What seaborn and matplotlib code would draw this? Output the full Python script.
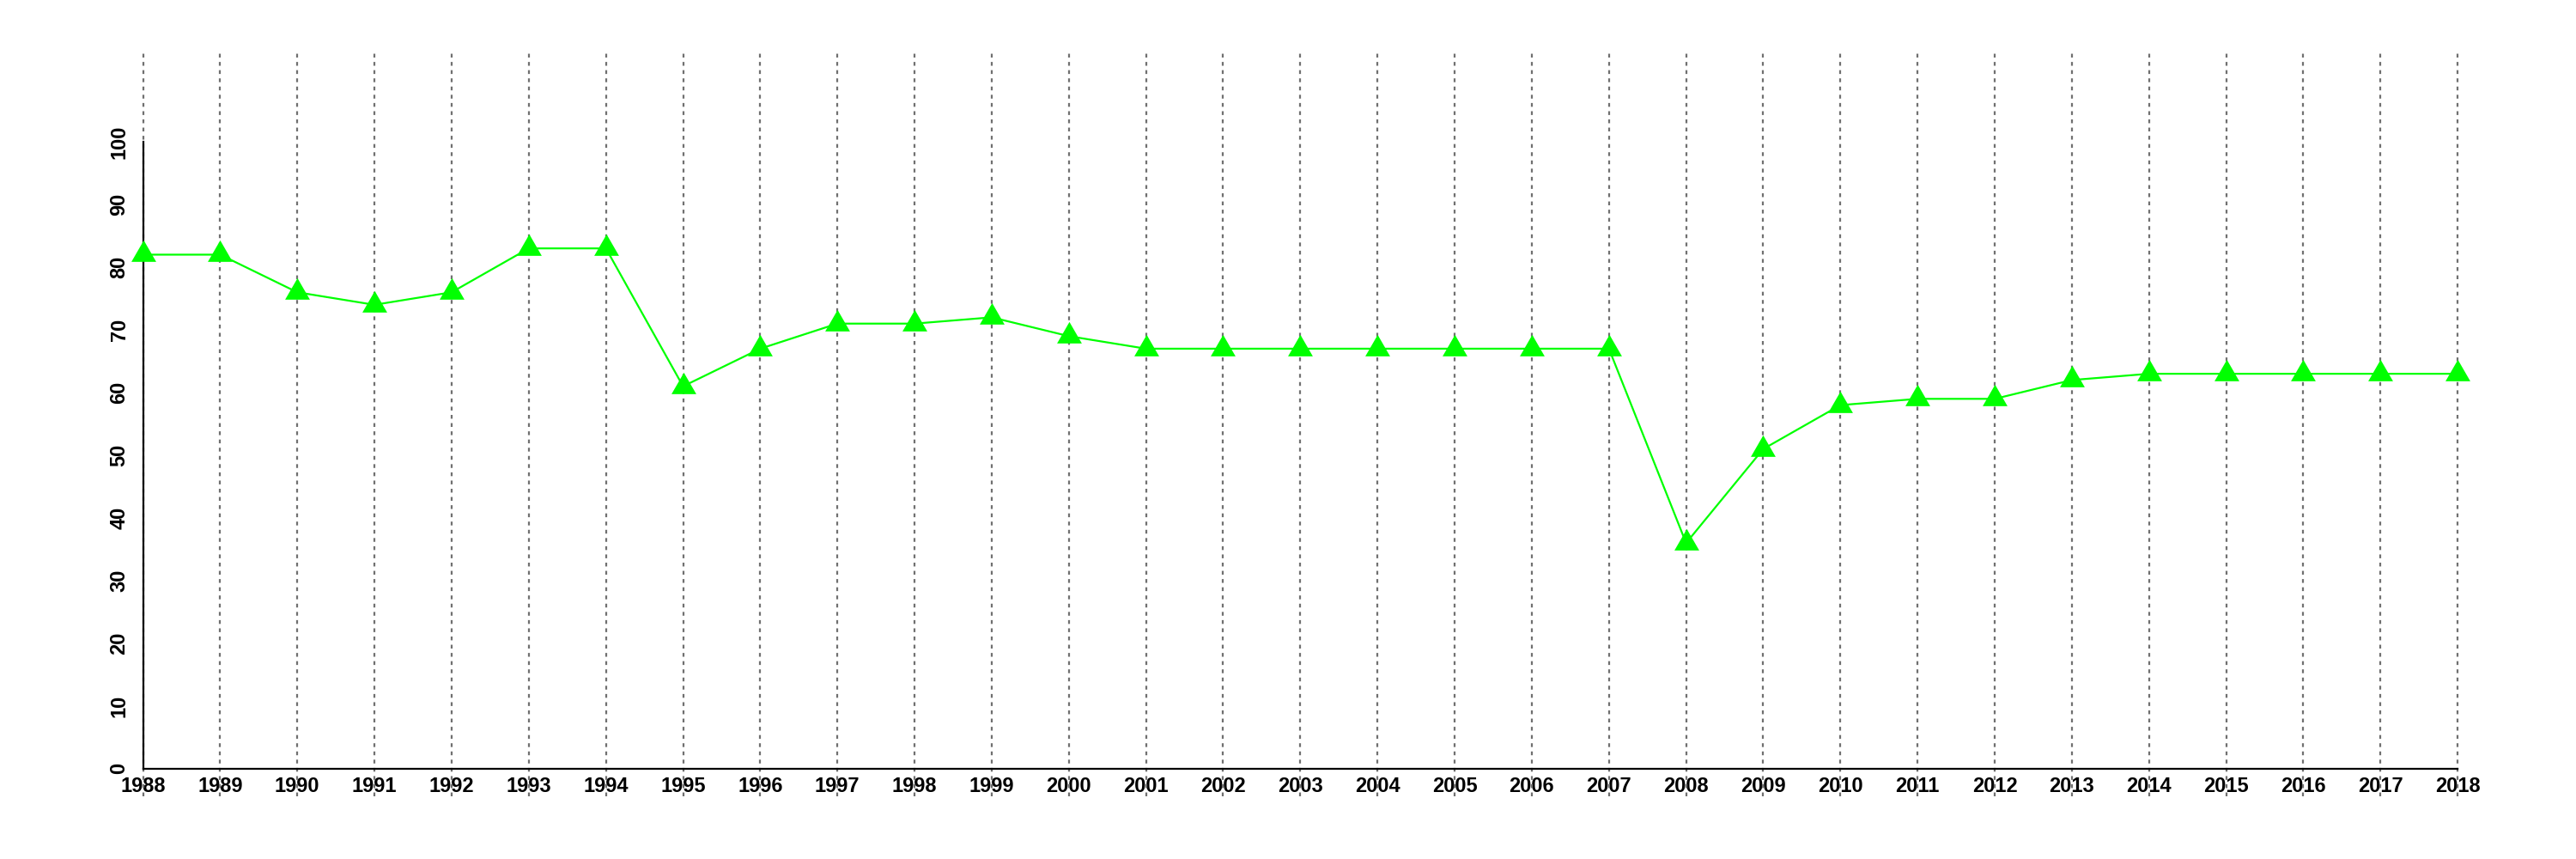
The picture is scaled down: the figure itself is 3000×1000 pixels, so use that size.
import matplotlib
matplotlib.use("Agg")
import matplotlib.pyplot as plt
import seaborn as sns
import pandas as pd

years = list(range(1988, 2019))
values = [82, 82, 76, 74, 76, 83, 83, 61, 67, 71, 71, 72, 69, 67, 67, 67, 67, 67, 67, 67,
          36, 51, 58, 59, 59, 62, 63, 63, 63, 63, 63]
y_ticks = list(range(0, 101, 10))

sns.set_style("white")
plt.rcParams['font.family'] = ['Liberation Sans', 'DejaVu Sans']

df = pd.DataFrame({"year": years, "value": values})

fig = plt.figure(figsize=(30, 10), dpi=100)
ax = fig.add_axes([58.7 / 3000, 73 / 1000, (2970 - 58.7) / 3000, 867 / 1000])

for yr in years:
    ax.axvline(yr, color='#707070', linewidth=1.6, linestyle=(0, (2.0, 2.3)), zorder=1)

tri = [(-0.5, -0.2887), (0.5, -0.2887), (0.0, 0.5774)]
sns.lineplot(data=df, x="year", y="value", ax=ax, color='#00FF00', linewidth=1.6,
             marker=tri, markersize=24, markeredgewidth=0, markerfacecolor='#00FF00',
             zorder=3)

ax.set_xlim(1986.8, 2019.2)
ax.set_ylim(-4.4, 114.4)
ax.set_xlabel("")
ax.set_ylabel("")

ax.spines['top'].set_visible(False)
ax.spines['right'].set_visible(False)
ax.spines['left'].set_position(('data', 1988))
ax.spines['bottom'].set_position(('data', 0))
ax.spines['left'].set_bounds(0, 100)
ax.spines['bottom'].set_bounds(1988, 2018)
for s in ('left', 'bottom'):
    ax.spines[s].set_linewidth(1.6)
    ax.spines[s].set_color('black')

ax.set_xticks(years)
ax.set_xticklabels([str(y) for y in years])
ax.set_yticks(y_ticks)
ax.set_yticklabels([str(v) for v in y_ticks])
ax.tick_params(axis='both', direction='out', length=6, width=1.6, color='black',
               labelsize=17, labelcolor='black')
ax.tick_params(axis='x', pad=0.5)
ax.tick_params(axis='y', pad=5.5)
for lab in ax.get_xticklabels():
    lab.set_fontweight('bold')
for lab in ax.get_yticklabels():
    lab.set_fontweight('bold')
    lab.set_rotation(90)
    lab.set_va('center')
    lab.set_ha('right')

fig.savefig("out.png", dpi=100, facecolor='white')
